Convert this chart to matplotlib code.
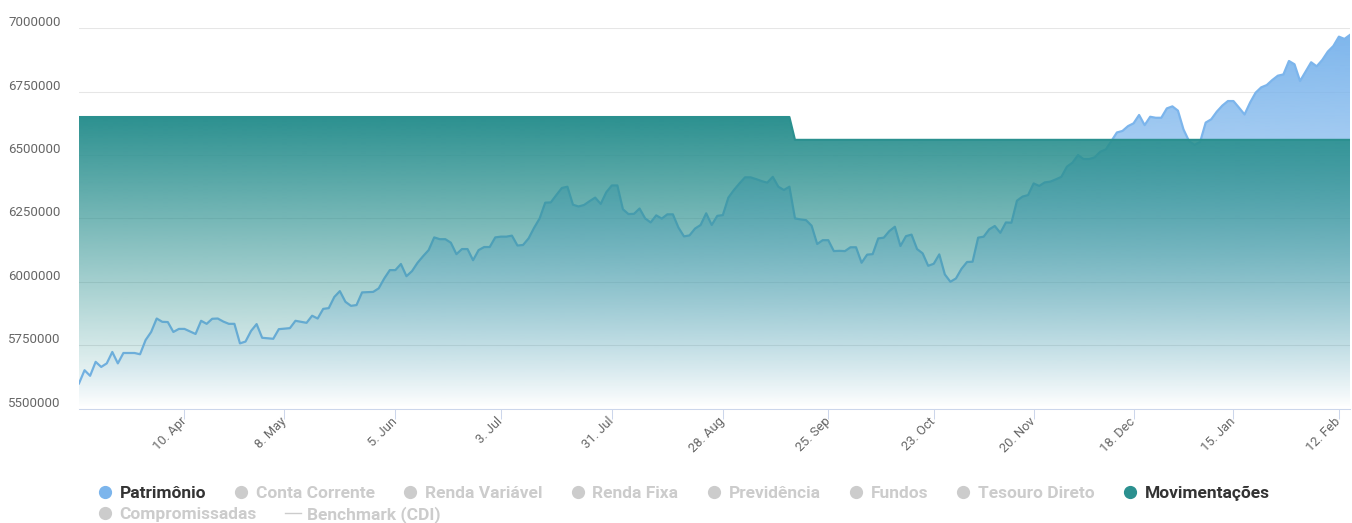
import numpy as np
import matplotlib
matplotlib.use("Agg")
import matplotlib.pyplot as plt
import matplotlib.transforms as mtransforms
from matplotlib.lines import Line2D
from matplotlib.colors import to_rgb

plt.rcParams['font.family'] = ['Roboto', 'DejaVu Sans']

# Patrimônio, one value per trading day (thousands of R$)
patrimonio_k = [
    5599, 5651, 5629, 5684, 5664, 5678, 5723, 5678, 5719, 5719,
    5719, 5714, 5770, 5802, 5855, 5842, 5841, 5802, 5814, 5814,
    5804, 5794, 5846, 5834, 5854, 5855, 5843, 5834, 5834, 5757,
    5764, 5806, 5833, 5779, 5777, 5775, 5813, 5815, 5817, 5846,
    5842, 5838, 5866, 5855, 5893, 5896, 5940, 5963, 5921, 5905,
    5908, 5958, 5959, 5960, 5974, 6013, 6046, 6046, 6070, 6022,
    6042, 6075, 6101, 6125, 6175, 6168, 6168, 6154, 6109, 6129,
    6129, 6085, 6125, 6137, 6137, 6175, 6178, 6178, 6182, 6143,
    6145, 6171, 6213, 6250, 6312, 6313, 6342, 6370, 6375, 6304,
    6297, 6303, 6318, 6332, 6307, 6353, 6380, 6380, 6286, 6267,
    6268, 6289, 6250, 6234, 6262, 6249, 6266, 6266, 6214, 6179,
    6183, 6210, 6224, 6270, 6224, 6260, 6263, 6332, 6362, 6388,
    6412, 6412, 6405, 6397, 6391, 6414, 6375, 6362, 6375, 6250,
    6246, 6243, 6221, 6149, 6164, 6164, 6121, 6122, 6121, 6136,
    6136, 6075, 6107, 6109, 6171, 6174, 6200, 6217, 6141, 6180,
    6186, 6129, 6112, 6063, 6071, 6108, 6029, 6000, 6013, 6051,
    6078, 6079, 6174, 6178, 6207, 6220, 6193, 6234, 6233, 6320,
    6336, 6342, 6388, 6378, 6392, 6395, 6404, 6414, 6454, 6470,
    6500, 6484, 6484, 6491, 6513, 6522, 6555, 6589, 6595, 6614,
    6625, 6658, 6618, 6651, 6647, 6647, 6684, 6692, 6675, 6601,
    6555, 6540, 6552, 6628, 6641, 6671, 6695, 6713, 6713, 6687,
    6660, 6707, 6746, 6767, 6776, 6796, 6813, 6818, 6871, 6858,
    6792, 6829, 6866, 6850, 6875, 6908, 6930, 6967, 6958, 6974,
]

# Movimentações: two flat levels, change after this trading day
mov_levels = [6650000, 6560000]
mov_last_high = 128

tick_idx = [19, 37, 57, 76, 96, 116, 135, 154, 172, 190, 208, 227]
tick_labels = ['10. Apr', '8. May', '5. Jun', '3. Jul', '31. Jul', '28. Aug',
               '25. Sep', '23. Oct', '20. Nov', '18. Dec', '15. Jan', '12. Feb']
y_ticks = [5500000, 5750000, 6000000, 6250000, 6500000, 6750000, 7000000]

legend_rows = [
    [('Patrimônio', '#7cb5ec', True, 'o'),
     ('Conta Corrente', '#cccccc', False, 'o'),
     ('Renda Variável', '#cccccc', False, 'o'),
     ('Renda Fixa', '#cccccc', False, 'o'),
     ('Previdência', '#cccccc', False, 'o'),
     ('Fundos', '#cccccc', False, 'o'),
     ('Tesouro Direto', '#cccccc', False, 'o'),
     ('Movimentações', '#2b908f', True, 'o')],
    [('Compromissadas', '#cccccc', False, 'o'),
     ('Benchmark (CDI)', '#cccccc', False, '-')],
]

BLUE = '#7cb5ec'
TEAL = '#2b908f'

patrimonio = np.array(patrimonio_k) * 1000
x = np.arange(len(patrimonio))
movimentacoes = np.where(x <= mov_last_high, mov_levels[0], mov_levels[1])
y_min, y_max = y_ticks[0], y_ticks[-1]


def gradient_fill(ax, xs, ys, color, top, bottom, zorder):
    poly = ax.fill_between(xs, ys, bottom, facecolor='none', edgecolor='none')
    img = np.zeros((256, 1, 4))
    img[:, :, :3] = to_rgb(color)
    img[:, 0, 3] = np.linspace(1, 0, 256)
    im = ax.imshow(img, aspect='auto', origin='upper', zorder=zorder,
                   extent=[xs[0], xs[-1], bottom, top], interpolation='bilinear')
    im.set_clip_path(poly.get_paths()[0], ax.transData)


W, H = 1352, 523
fig = plt.figure(figsize=(W / 100, H / 100), dpi=100)
ax = fig.add_axes([79 / W, 114.5 / H, (1350 - 79) / W, (494.7 - 114.5) / H])

gradient_fill(ax, x, patrimonio, BLUE, y_max, y_min, 1)
ax.plot(x, patrimonio, color=BLUE, lw=1.6, zorder=2, solid_joinstyle='round')
gradient_fill(ax, x, movimentacoes, TEAL, mov_levels[0], y_min, 3)
ax.plot(x, movimentacoes, color=TEAL, lw=1.5, zorder=4)

ax.set_xlim(x[0], x[-1])
ax.set_ylim(y_min, y_max)

ax.set_yticks(y_ticks)
ax.set_yticklabels([str(v) for v in y_ticks], fontsize=9.5, color='#666666')
ax.tick_params(axis='y', length=0, pad=13)
shift = mtransforms.ScaledTranslation(0, 5 / 72, fig.dpi_scale_trans)
for lbl in ax.get_yticklabels():
    lbl.set_transform(lbl.get_transform() + shift)

ax.set_xticks(tick_idx)
ax.set_xticklabels(tick_labels, rotation=45, ha='right', va='center',
                   rotation_mode='anchor', fontsize=9.3, color='#666666')
ax.tick_params(axis='x', length=7.5, width=0.75, color='#ccd6eb', pad=0.5)

ax.set_axisbelow(True)
ax.yaxis.grid(True, color='#e6e6e6', lw=0.75)
for side in ['left', 'right', 'top']:
    ax.spines[side].set_visible(False)
ax.spines['bottom'].set_color('#ccd6eb')
ax.spines['bottom'].set_linewidth(0.75)

# legend drawn item by item, two rows
renderer = fig.canvas.get_renderer()
px = mtransforms.IdentityTransform()
row_y = [H - 492, H - 513]
for row, ry in zip(legend_rows, row_y):
    sx = 97.5
    for name, color, active, kind in row:
        if kind == 'o':
            fig.add_artist(Line2D([sx + 7], [ry], marker='o', ms=8.5, color=color,
                                  lw=0, transform=px))
        else:
            fig.add_artist(Line2D([sx, sx + 16], [ry, ry], color=color, lw=1,
                                  transform=px))
        t = fig.text(sx + 22, ry, name, transform=px, fontsize=12.5, fontweight='bold',
                     color='#333333' if active else '#cccccc', va='center_baseline')
        sx = t.get_window_extent(renderer).x1 + 28

fig.savefig('out.png', dpi=100)
